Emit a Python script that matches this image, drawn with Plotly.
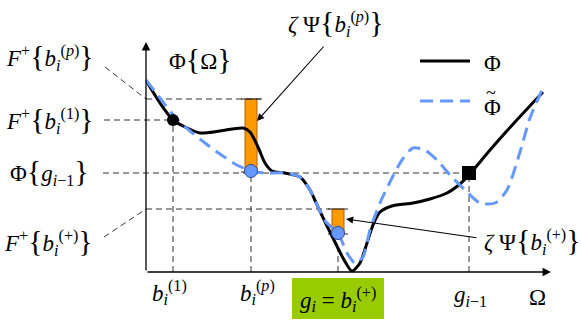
import plotly.graph_objects as go

# ---- data (schematic units: Omega along x, Phi along y) ----
phi_x = [1, 14, 27, 39, 54, 74, 97, 104, 112, 119, 126, 139, 154, 164, 172, 180, 187, 197, 206,
         214, 221, 227, 234, 246, 267, 284, 301, 314, 323, 344, 369, 397]
phi_y = [190, 169, 152, 145, 139, 141, 144, 140, 125, 109, 101, 99, 95, 82, 65, 48, 34, 14, 1,
         9, 29, 47, 60, 66, 69, 73, 79, 88, 97, 122, 150, 180]

phit_x = [0, 14, 29, 44, 59, 74, 89, 105, 119, 139, 154, 164, 172, 180, 192, 201, 209, 217, 224,
          234, 246, 256, 267, 279, 291, 304, 319, 334, 349, 361, 374, 384, 396]
phit_y = [192, 174, 155, 141, 129, 118, 108, 101, 99, 99, 95, 82, 65, 50, 39, 19, 9, 15, 42,
          69, 94, 112, 124, 122, 112, 97, 82, 69, 69, 82, 120, 154, 182]

# key abscissae
b1, bp, bplus, gprev = 27, 105, 192, 323
# key levels
F_bp, F_b1, Phi_g, F_bplus = 173, 152, 99, 63
# penalty bars (zeta*Psi)
bar_x = [bp, bplus]
bar_base = [101, 39]
bar_top = [F_bp, F_bplus]

axis_x_end, axis_y_end = 405, 230

FONT = "Liberation Serif, Times New Roman, serif"
FS = 23
DASH = "6px,4px"
GREY = "#333333"

fig = go.Figure()

def seg(xs, ys, color=GREY, width=1, dash=DASH):
    fig.add_trace(go.Scatter(x=xs, y=ys, mode="lines", hoverinfo="skip",
                             line=dict(color=color, width=width, dash=dash)))

# orange bars
fig.add_trace(go.Bar(x=bar_x, y=[t - b for t, b in zip(bar_top, bar_base)], base=bar_base,
                     width=[12, 12], marker=dict(color="#ff9900", line=dict(color="#b85c00", width=1))))

# dashed guide lines
seg([0, bp + 12], [F_bp, F_bp])
seg([-42, b1], [F_b1, F_b1])
seg([-43, gprev], [Phi_g, Phi_g])
seg([0, bplus - 8], [F_bplus, F_bplus])
seg([-41, 0], [205, F_bp])
seg([-42, 0], [35, F_bplus])
seg([b1, b1], [0, F_b1])
seg([bp, bp], [0, bar_base[0]])
seg([bplus, bplus], [0, 30])
seg([gprev, gprev], [0, Phi_g])

# caps on bars
for xc, lo, hi in zip(bar_x, bar_base, bar_top):
    seg([xc - 10, xc + 10], [hi, hi], color="#222", width=1, dash="solid")
    seg([xc - 10, xc + 10], [lo - 1, lo - 1], color="#222", width=1, dash="solid")

# curves
fig.add_trace(go.Scatter(x=phi_x, y=phi_y, mode="lines", hoverinfo="skip",
                         line=dict(color="black", width=3, shape="spline", smoothing=0.7)))
fig.add_trace(go.Scatter(x=phit_x, y=phit_y, mode="lines", hoverinfo="skip",
                         line=dict(color="#6699ff", width=3, dash="13px,7px", shape="spline", smoothing=0.7)))

# markers
fig.add_trace(go.Scatter(x=[b1], y=[F_b1], mode="markers",
                         marker=dict(symbol="circle", size=12, color="black")))
fig.add_trace(go.Scatter(x=[gprev], y=[Phi_g], mode="markers",
                         marker=dict(symbol="square", size=14, color="black")))
fig.add_trace(go.Scatter(x=bar_x, y=bar_base, mode="markers",
                         marker=dict(symbol="circle", size=13, color="#6699ff",
                                     line=dict(color="#2a4a99", width=1))))

# legend
seg([274, 324], [211, 211], color="black", width=3, dash="solid")
seg([274, 324], [171, 171], color="#6699ff", width=3, dash="13px,7px")

ann = []
def txt(x, y, s, size=FS, xanchor="center"):
    ann.append(dict(x=x, y=y, text=s, showarrow=False, xanchor=xanchor, yanchor="middle",
                    font=dict(family=FONT, size=size, color="black")))

def arrow(x0, y0, x1, y1, head=2, size=1.0, width=1.2):
    ann.append(dict(x=x1, y=y1, ax=x0, ay=y0, xref="x", yref="y", axref="x", ayref="y",
                    text="", showarrow=True, arrowhead=head, arrowsize=size, arrowwidth=width,
                    arrowcolor="black"))

# axes with arrows
arrow(0, 0, axis_x_end, 0, head=2, size=1.3, width=1.3)
arrow(0, 0, 0, axis_y_end, head=2, size=1.3, width=1.3)

LB = '<span style="font-size:30px">{</span>'
RB = '<span style="font-size:30px">}</span>'
bi = "<i>b</i><sub><i>i</i></sub>"
txt(-96, 216, "<i>F</i><sup>+</sup>" + LB + bi + "<sup>(<i>p</i>)</sup>" + RB)
txt(-96, 153, "<i>F</i><sup>+</sup>" + LB + bi + "<sup>(1)</sup>" + RB)
txt(-97, 101, "Φ" + LB + "<i>g</i><sub><i>i</i>−1</sub>" + RB)
txt(-98, 31, "<i>F</i><sup>+</sup>" + LB + bi + "<sup>(+)</sup>" + RB)
txt(54, 214, "Φ" + LB + "Ω" + RB)
txt(190, 250, "<i>ζ</i> Ψ" + LB + bi + "<sup>(<i>p</i>)</sup>" + RB)
txt(386, 32, "<i>ζ</i> Ψ" + LB + bi + "<sup>(+)</sup>" + RB)
txt(336, 209, "Φ", xanchor="left")
txt(336, 165, "Φ", xanchor="left")
txt(345, 179, "~", size=18)
txt(23, -20, bi + "<sup>(1)</sup>")
txt(bp + 6, -20, bi + "<sup>(<i>p</i>)</sup>")
txt(192, -27, "<i>g</i><sub><i>i</i></sub> = " + bi + "<sup>(+)</sup>")
txt(gprev + 1, -24, "<i>g</i><sub><i>i</i>−1</sub>")
txt(391, -25, "Ω")

# callout arrows
arrow(179, 227, 111, 151, head=2, size=1.3, width=1.1)
arrow(332, 34, 200, 53, head=2, size=1.3, width=1.1)

fig.update_layout(
    width=581, height=320, margin=dict(l=0, r=0, t=0, b=0),
    paper_bgcolor="white", plot_bgcolor="white", showlegend=False, barmode="overlay",
    xaxis=dict(range=[-146, 435], visible=False, fixedrange=True),
    yaxis=dict(range=[-48, 272], visible=False, fixedrange=True),
    annotations=ann,
    shapes=[dict(type="rect", xref="x", yref="y", x0=146, x1=238, y0=-47, y1=-6,
                 fillcolor="#99cc00", line=dict(width=0), layer="below")],
)

fig.write_html("out.html", config={"displayModeBar": False},
               post_script="document.body.style.margin='0px';")
